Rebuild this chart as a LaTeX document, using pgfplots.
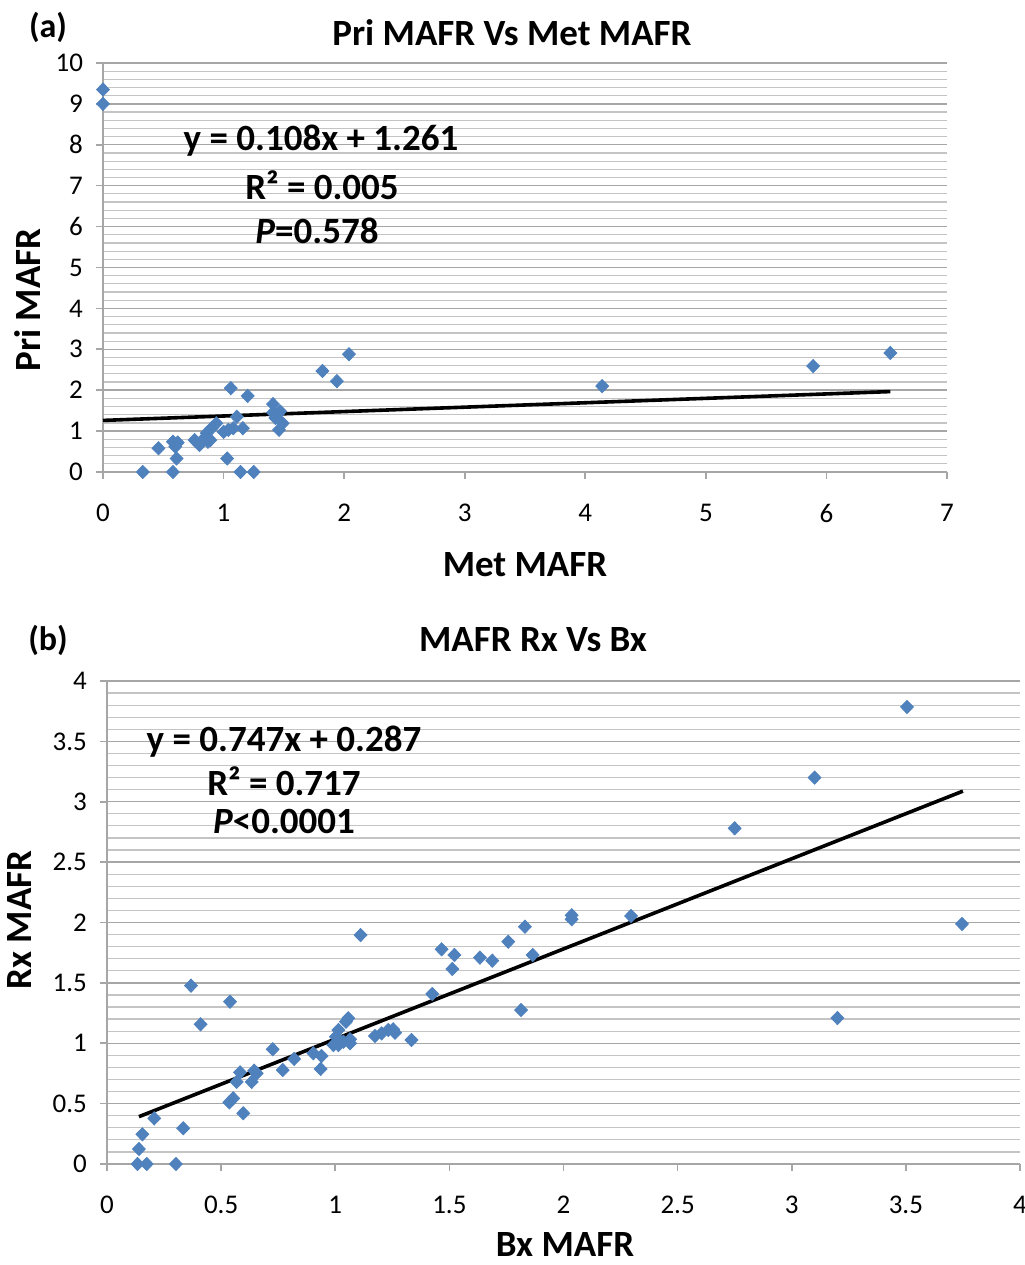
\documentclass[border=0pt]{standalone}
\usepackage{fontspec}
\setmainfont{Carlito}
\usepackage{pgfplots}
\pgfplotsset{compat=1.18}

\definecolor{xlblue}{HTML}{4F81BD}
\definecolor{majgrid}{HTML}{A6A6A6}
\definecolor{mingrid}{HTML}{C4C4C4}

\pgfplotsset{
    xlstyle/.style={
        scale only axis,
        axis lines=left,
        axis line style={majgrid, line width=0.8pt, -},
        ymajorgrids, yminorgrids,
        major grid style={majgrid, line width=0.7pt},
        minor grid style={mingrid, line width=0.6pt},
        tick style={majgrid, line width=0.8pt},
        tick align=outside,
        major tick length=3.5pt,
        minor tick length=0pt,
        ticklabel style={font=\fontsize{13.5}{14}\selectfont},
        /pgf/number format/assume math mode=true,
        xticklabel style={yshift=-9pt},
        yticklabel style={xshift=-3pt},
        clip=false,
    },
    pts/.style={only marks, mark=diamond*, mark size=3.3pt, xlblue,
        mark options={xscale=1.3, draw=xlblue, fill=xlblue}},
}

\begin{document}
\begin{tikzpicture}
\path[use as bounding box] (0,0) rectangle (512pt,632.5pt);

% panel (a)
\begin{axis}[xlstyle,
    at={(51.5pt,396.5pt)}, anchor=south west,
    width=422pt, height=204.5pt,
    xmin=0, xmax=7, ymin=0, ymax=10,
    xtick={0,1,...,7}, ytick={0,1,...,10},
    minor y tick num=4,
]
\addplot[pts] coordinates {
(0,9.35) (0,9.0) (0.33,0) (0.58,0) (1.14,0) (1.25,0)
(0.46,0.58) (0.61,0.33) (1.03,0.33) (0.58,0.74) (0.62,0.72) (0.60,0.62)
(0.76,0.78) (0.80,0.66) (0.87,0.74) (0.89,0.78) (0.85,0.86) (0.86,0.95)
(0.90,1.07) (0.94,1.19) (1.00,0.98) (1.04,1.03) (1.08,1.07) (1.16,1.07)
(1.11,1.35) (1.06,2.05) (1.20,1.86) (1.41,1.66) (1.41,1.45) (1.44,1.40)
(1.47,1.48) (1.43,1.32) (1.49,1.19) (1.46,1.03) (1.82,2.47) (1.94,2.22)
(2.04,2.88) (4.14,2.10) (5.89,2.59) (6.53,2.91)
};
\addplot[black, line width=1.8pt] coordinates {(0,1.261) (6.53,1.966)};
\end{axis}

% panel (b)
\begin{axis}[xlstyle,
    at={(53.5pt,50.5pt)}, anchor=south west,
    width=456.5pt, height=241.5pt,
    xmin=0, xmax=4, ymin=0, ymax=4,
    xtick={0,0.5,...,4}, ytick={0,0.5,...,4},
    minor y tick num=4,
]
\addplot[pts] coordinates {
(0.134,0) (0.174,0) (0.302,0) (0.14,0.124) (0.155,0.246) (0.207,0.378)
(0.334,0.296) (0.368,1.477) (0.41,1.157) (0.539,1.344) (0.536,0.51)
(0.553,0.544) (0.597,0.42) (0.568,0.68) (0.634,0.68) (0.583,0.759)
(0.645,0.773) (0.656,0.751) (0.726,0.95) (0.77,0.778) (0.82,0.87)
(0.904,0.917) (0.94,0.894) (0.936,0.787) (0.992,0.985) (1.014,0.985)
(1.036,1.013) (1.065,1.0) (1.065,1.033) (1.003,1.054) (1.014,1.11)
(1.047,1.178) (1.057,1.207) (1.111,1.896) (1.174,1.06) (1.203,1.082)
(1.232,1.11) (1.254,1.115) (1.262,1.087) (1.334,1.027) (1.425,1.408)
(1.466,1.778) (1.513,1.615) (1.522,1.731) (1.634,1.709) (1.688,1.684)
(1.758,1.841) (1.814,1.275) (1.831,1.965) (1.865,1.731) (2.036,2.06)
(2.036,2.027) (2.296,2.054) (2.75,2.78) (3.10,3.20) (3.20,1.209)
(3.505,3.785) (3.746,1.988)
};
\addplot[black, line width=1.8pt] coordinates {(0.14,0.392) (3.75,3.088)};
\end{axis}

% texts
\begin{scope}[every node/.style={font=\bfseries\fontsize{18.5}{19}\selectfont, inner sep=0pt}]
\node[font=\bfseries\fontsize{17}{18}\selectfont] at (24pt,619pt) {(a)};
\node at (256pt,616pt) {Pri MAFR Vs Met MAFR};
\node at (160.5pt,562pt) {y = 0.108x + 1.261};
\node at (161pt,540pt) {R² = 0.005};
\node at (158.5pt,517pt) {\textit{P}=0.578};
\node[rotate=90] at (14pt,482.5pt) {Pri MAFR};
\node at (262.5pt,350pt) {Met MAFR};
\node[font=\bfseries\fontsize{17}{18}\selectfont] at (24pt,312.5pt) {(b)};
\node at (266.5pt,312.5pt) {MAFR Rx Vs Bx};
\node at (142pt,261.5pt) {y = 0.747x + 0.287};
\node at (142pt,242pt) {R² = 0.717};
\node at (142pt,222pt) {\textit{P}<0.0001};
\node[rotate=90] at (10pt,172.5pt) {Rx MAFR};
\node[anchor=base] at (282.5pt,4.5pt) {Bx MAFR};
\end{scope}
\end{tikzpicture}
\end{document}
